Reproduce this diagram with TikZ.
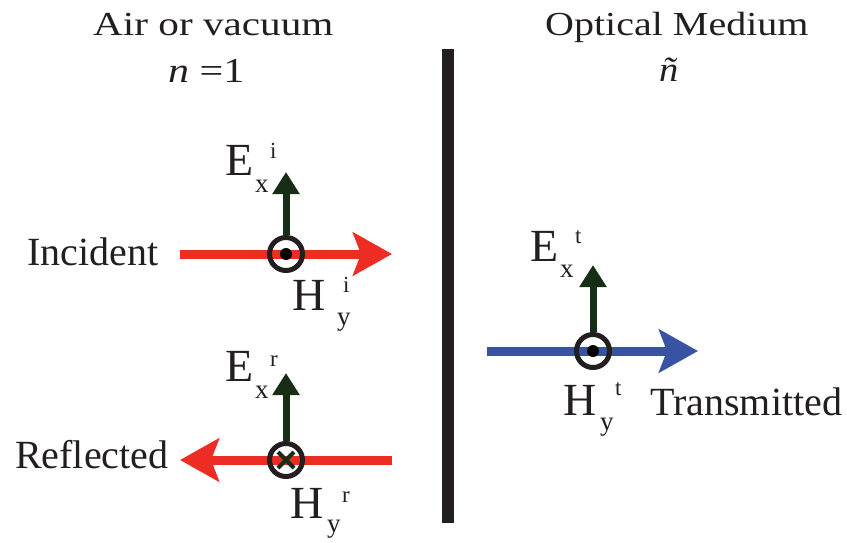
\documentclass[tikz,border=0pt]{standalone}
\usepackage{fontspec}
\setmainfont{Liberation Serif}
\usetikzlibrary{arrows.meta,calc}
\definecolor{redarrow}{RGB}{237,45,36}
\definecolor{bluearrow}{RGB}{57,83,164}
\definecolor{greenarrow}{RGB}{22,46,22}
\definecolor{darkline}{RGB}{35,31,32}
\begin{document}
\begin{tikzpicture}[x=1pt,y=-1pt,
 txt/.style={inner sep=0pt, anchor=base west, text=darkline},
 big/.style={txt, font=\fontsize{40}{40}\selectfont},
 head/.style={txt, font=\fontsize{40}{40}\selectfont},
 idx/.style={txt, font=\fontsize{35}{35}\selectfont},
 main/.style={txt, font=\fontsize{46}{46}\selectfont},
 subs/.style={txt, font=\fontsize{27}{27}\selectfont},
 sups/.style={txt, font=\fontsize{23}{23}\selectfont},
 beam/.style={line width=9pt, -{Stealth[length=39pt,width=43pt,inset=8pt]}},
 efield/.style={draw=greenarrow, line width=7pt, -{Triangle[length=22pt,width=26pt]}},
 ring/.style={circle, draw=darkline, line width=5pt, minimum size=33pt, inner sep=0pt},
 dotc/.style={circle, fill=black, minimum size=12pt, inner sep=0pt},
]
\useasboundingbox (0,0) rectangle (847,542);
% headings
\node[head] (hleft) at (93,35) {\scalebox{1.03}[0.84]{Air or vacuum}};
\node[head] (hright) at (545,35) {\scalebox{1}[0.84]{Optical Medium}};
\node[idx] (nleft) at (168,82) {\scalebox{1.2}[1]{\textit{n} =1}};
\node[idx] (nright) at (659,81) {\scalebox{1.1}[1]{\textit{ñ}}};
% interface
\fill[darkline] (442,49) rectangle (454,523);
% incident
\coordinate (inS) at (180,254);
\coordinate (inE) at (392,254);
\coordinate (inEtip) at (286,172);
\draw[beam, redarrow] (inS) -- (inE);
\node[ring] (inC) at (286,254) {};
\node[dotc] (inD) at (inC.center) {};
\draw[efield] (inC.north) -- (inEtip);
\node[big] (inL) at (27,265) {Incident};
\node[main] (inEx) at (225,175) {E};
\node[subs] (inExs) at (255,192) {x};
\node[sups] (inExp) at (270,158) {i};
\node[main] (inHy) at (292,310) {H};
\node[subs] (inHys) at (337,325) {y};
\node[sups] (inHyp) at (343,292) {i};
% reflected
\coordinate (reS) at (392,460);
\coordinate (reE) at (180,460);
\coordinate (reEtip) at (286,373);
\draw[beam, redarrow] (reS) -- (reE);
\node[ring] (reC) at (286,460) {};
\draw[greenarrow, line width=4pt] ($(reC.center)+(-8,-8)$) -- ($(reC.center)+(8,8)$);
\draw[greenarrow, line width=4pt] ($(reC.center)+(-8,8)$) -- ($(reC.center)+(8,-8)$);
\draw[efield] (reC.north) -- (reEtip);
\node[big] (reL) at (15,468) {Reflected};
\node[main] (reEx) at (225,381) {E};
\node[subs] (reExs) at (255,398) {x};
\node[sups] (reExp) at (270,366) {r};
\node[main] (reHy) at (290,518) {H};
\node[subs] (reHys) at (327,532) {y};
\node[sups] (reHyp) at (342,502) {r};
% transmitted
\coordinate (trS) at (487,351);
\coordinate (trE) at (698,351);
\coordinate (trEtip) at (593,265);
\draw[beam, bluearrow] (trS) -- (trE);
\node[ring] (trC) at (593,351) {};
\node[dotc] (trD) at (trC.center) {};
\draw[efield] (trC.north) -- (trEtip);
\node[big] (trL) at (650,415) {Transmitted};
\node[main] (trEx) at (530,261) {E};
\node[subs] (trExs) at (560,277) {x};
\node[sups] (trExp) at (575,243) {t};
\node[main] (trHy) at (563,415) {H};
\node[subs] (trHys) at (600,430) {y};
\node[sups] (trHyp) at (615,395) {t};
\end{tikzpicture}
\end{document}
